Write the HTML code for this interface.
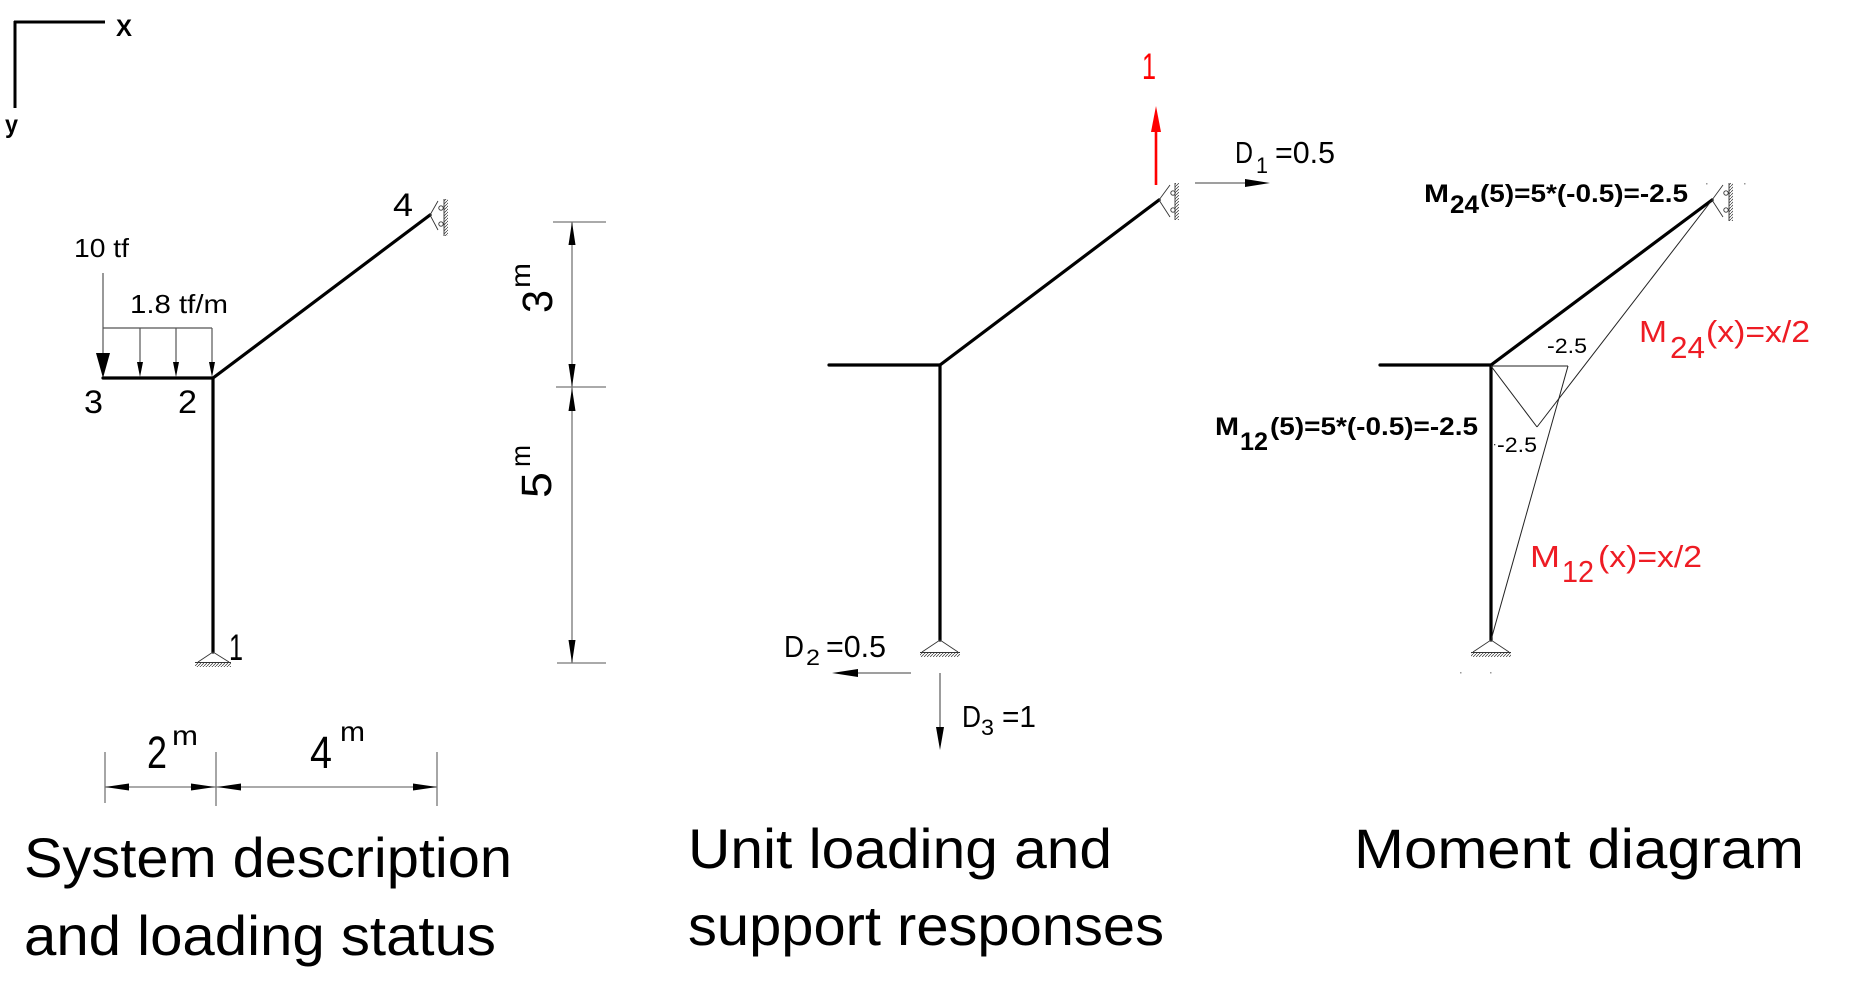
<!DOCTYPE html>
<html><head><meta charset="utf-8"><style>
html,body{margin:0;padding:0;background:#fff;}
svg{display:block;}
text{font-family:"Liberation Sans",Arial,sans-serif;}
</style></head><body>
<svg width="1872" height="1005" viewBox="0 0 1872 1005" xmlns="http://www.w3.org/2000/svg">
<defs>
<pattern id="h" patternUnits="userSpaceOnUse" width="3" height="3">
<line x1="0" y1="3" x2="3" y2="0" stroke="#333" stroke-width="0.7"/>
</pattern>
</defs>
<rect width="1872" height="1005" fill="#fff"/>

<!-- Axis -->
<line x1="14" y1="22" x2="105" y2="22" stroke="#000" stroke-width="3"/>
<line x1="15" y1="21" x2="15" y2="108" stroke="#000" stroke-width="3"/>
<text x="116" y="36" font-size="24" font-weight="bold" textLength="16" lengthAdjust="spacingAndGlyphs">X</text>
<text x="5" y="133" font-size="25" font-weight="bold" textLength="13" lengthAdjust="spacingAndGlyphs">y</text>

<!-- ===== LEFT DIAGRAM ===== -->
<g stroke="#000" stroke-width="3.2" stroke-linecap="round">
<line x1="103" y1="378" x2="213" y2="378"/>
<line x1="213" y1="378" x2="213" y2="652"/>
<line x1="213" y1="378" x2="430" y2="215"/>
</g>
<!-- 10 tf arrow -->
<line x1="103" y1="273" x2="103" y2="356" stroke="#555" stroke-width="1.2"/>
<polygon points="96,353 110,353 103,378" fill="#000"/>
<!-- distributed load -->
<line x1="103" y1="328" x2="212" y2="328" stroke="#555" stroke-width="1.2"/>
<g stroke="#555" stroke-width="1.2">
<line x1="140" y1="328" x2="140" y2="364"/>
<line x1="176" y1="328" x2="176" y2="364"/>
<line x1="212" y1="328" x2="212" y2="364"/>
</g>
<polygon points="137,362 143,362 140,377" fill="#000"/>
<polygon points="173,362 179,362 176,377" fill="#000"/>
<polygon points="209,362 215,362 212,377" fill="#000"/>
<text x="74" y="257" font-size="26" textLength="55" lengthAdjust="spacingAndGlyphs">10 tf</text>
<text x="130" y="313" font-size="26" textLength="98" lengthAdjust="spacingAndGlyphs">1.8 tf/m</text>
<text x="84" y="413" font-size="32" textLength="19" lengthAdjust="spacingAndGlyphs">3</text>
<text x="178" y="413" font-size="32" textLength="19" lengthAdjust="spacingAndGlyphs">2</text>
<text x="393" y="216" font-size="32" textLength="20" lengthAdjust="spacingAndGlyphs">4</text>
<text x="229" y="660" font-size="37" textLength="14" lengthAdjust="spacingAndGlyphs">1</text>
<!-- support 4 left -->
<g stroke="#333" stroke-width="0.9" fill="none">
<polyline points="438,201 430,215 438,230"/>
<circle cx="441" cy="208" r="2.2"/>
<circle cx="441" cy="224" r="2.2"/>
<line x1="444" y1="199" x2="444" y2="236"/>
</g>
<rect x="444" y="199" width="4" height="37" fill="url(#h)"/>
<!-- support 1 left -->
<g stroke="#333" stroke-width="0.9" fill="none">
<polyline points="198,662 213,652 229,662"/>
<line x1="195" y1="662.5" x2="231" y2="662.5"/>
</g>
<rect x="195" y="663" width="36" height="4" fill="url(#h)"/>

<!-- vertical dims -->
<g stroke="#777" stroke-width="1.3">
<line x1="572" y1="222" x2="572" y2="663"/>
<line x1="553" y1="222" x2="606" y2="222"/>
<line x1="556" y1="387" x2="606" y2="387"/>
<line x1="557" y1="663" x2="606" y2="663"/>
</g>
<polygon points="572,222 568.5,245 575.5,245" fill="#000"/>
<polygon points="572,387 568.5,364 575.5,364" fill="#000"/>
<polygon points="572,388 568.5,411 575.5,411" fill="#000"/>
<polygon points="572,663 568.5,640 575.5,640" fill="#000"/>
<text transform="translate(552,313) rotate(-90)" font-size="43" textLength="23" lengthAdjust="spacingAndGlyphs">3</text>
<text transform="translate(530,288) rotate(-90)" font-size="28" textLength="25" lengthAdjust="spacingAndGlyphs">m</text>
<text transform="translate(551,498) rotate(-90)" font-size="43" textLength="26" lengthAdjust="spacingAndGlyphs">5</text>
<text transform="translate(530,467) rotate(-90)" font-size="28" textLength="22" lengthAdjust="spacingAndGlyphs">m</text>

<!-- horizontal dims -->
<g stroke="#777" stroke-width="1.3">
<line x1="105" y1="787" x2="437" y2="787"/>
<line x1="105" y1="752" x2="105" y2="803"/>
<line x1="216" y1="752" x2="216" y2="806"/>
<line x1="437" y1="752" x2="437" y2="806"/>
</g>
<polygon points="105,787 129,783.5 129,790.5" fill="#000"/>
<polygon points="215,787 191,783.5 191,790.5" fill="#000"/>
<polygon points="217,787 241,783.5 241,790.5" fill="#000"/>
<polygon points="437,787 413,783.5 413,790.5" fill="#000"/>
<text x="147" y="768" font-size="45" textLength="20" lengthAdjust="spacingAndGlyphs">2</text>
<text x="172" y="745" font-size="28" textLength="26" lengthAdjust="spacingAndGlyphs">m</text>
<text x="310" y="768" font-size="45" textLength="22" lengthAdjust="spacingAndGlyphs">4</text>
<text x="340" y="741" font-size="28" textLength="25" lengthAdjust="spacingAndGlyphs">m</text>

<text x="24" y="877" font-size="56" textLength="488" lengthAdjust="spacingAndGlyphs">System description</text>
<text x="24" y="955" font-size="56" textLength="472" lengthAdjust="spacingAndGlyphs">and loading status</text>

<!-- ===== MIDDLE DIAGRAM ===== -->
<g stroke="#000" stroke-width="3.2" stroke-linecap="round">
<line x1="829" y1="365" x2="940" y2="365"/>
<line x1="940" y1="365" x2="940" y2="640"/>
<line x1="940" y1="365" x2="1159" y2="200"/>
</g>
<g stroke="#333" stroke-width="0.9" fill="none">
<polyline points="1170,185 1159,200 1170,217"/>
<circle cx="1173" cy="193" r="2.2"/>
<circle cx="1173" cy="210" r="2.2"/>
<line x1="1175" y1="183" x2="1175" y2="220"/>
</g>
<rect x="1175" y="183" width="4" height="37" fill="url(#h)"/>
<g stroke="#333" stroke-width="0.9" fill="none">
<polyline points="922,652 940,640 958,652"/>
<line x1="920" y1="652.5" x2="960" y2="652.5"/>
</g>
<rect x="920" y="653" width="40" height="4" fill="url(#h)"/>
<!-- red unit load -->
<line x1="1156" y1="185" x2="1156" y2="128" stroke="#ff0000" stroke-width="2.6"/>
<polygon points="1151,132 1161,132 1156,106" fill="#ff0000"/>
<text x="1142" y="79" font-size="37" fill="#ff0000" textLength="14" lengthAdjust="spacingAndGlyphs">1</text>
<!-- D1 -->
<line x1="1195" y1="183" x2="1250" y2="183" stroke="#666" stroke-width="1.3"/>
<polygon points="1270,183 1245,179 1245,187" fill="#000"/>
<text x="1235" y="163" font-size="31" textLength="18" lengthAdjust="spacingAndGlyphs">D</text>
<text x="1256" y="173" font-size="22" textLength="12" lengthAdjust="spacingAndGlyphs">1</text>
<text x="1275" y="163" font-size="31" textLength="60" lengthAdjust="spacingAndGlyphs">=0.5</text>
<!-- D2 -->
<line x1="911" y1="673" x2="855" y2="673" stroke="#666" stroke-width="1.3"/>
<polygon points="832,673 858,669 858,677" fill="#000"/>
<text x="784" y="657" font-size="31" textLength="20" lengthAdjust="spacingAndGlyphs">D</text>
<text x="806" y="665" font-size="22" textLength="14" lengthAdjust="spacingAndGlyphs">2</text>
<text x="826" y="657" font-size="31" textLength="60" lengthAdjust="spacingAndGlyphs">=0.5</text>
<!-- D3 -->
<line x1="940" y1="673" x2="940" y2="730" stroke="#666" stroke-width="1.3"/>
<polygon points="940,750 936,727 944,727" fill="#000"/>
<text x="962" y="727" font-size="31" textLength="19" lengthAdjust="spacingAndGlyphs">D</text>
<text x="981" y="735" font-size="22" textLength="13" lengthAdjust="spacingAndGlyphs">3</text>
<text x="1002" y="727" font-size="31" textLength="34" lengthAdjust="spacingAndGlyphs">=1</text>

<text x="688" y="868" font-size="56" textLength="424" lengthAdjust="spacingAndGlyphs">Unit loading and</text>
<text x="688" y="945" font-size="56" textLength="476" lengthAdjust="spacingAndGlyphs">support responses</text>

<!-- ===== RIGHT DIAGRAM ===== -->
<g stroke="#000" stroke-width="3.2" stroke-linecap="round">
<line x1="1380" y1="365" x2="1491" y2="365"/>
<line x1="1491" y1="365" x2="1491" y2="640"/>
<line x1="1491" y1="365" x2="1712" y2="200"/>
</g>
<g stroke="#333" stroke-width="0.9" fill="none">
<polyline points="1723,185 1712,200 1723,217"/>
<circle cx="1726" cy="193" r="2.2"/>
<circle cx="1726" cy="210" r="2.2"/>
<line x1="1729" y1="183" x2="1729" y2="221"/>
</g>
<rect x="1729" y="183" width="4" height="38" fill="url(#h)"/>
<g stroke="#333" stroke-width="0.9" fill="none">
<polyline points="1473,652 1491,640 1509,652"/>
<line x1="1471" y1="652.5" x2="1511" y2="652.5"/>
</g>
<rect x="1471" y="653" width="40" height="4" fill="url(#h)"/>
<g fill="#999">
<rect x="1706" y="183" width="1.5" height="1.5"/>
<rect x="1744" y="183" width="1.5" height="1.5"/>
<rect x="1460" y="672" width="1.5" height="1.5"/>
<rect x="1490" y="672" width="1.5" height="1.5"/>
</g>
<!-- moment diagram thin lines -->
<g stroke="#222" stroke-width="1" fill="none">
<line x1="1491" y1="366" x2="1568" y2="366"/>
<line x1="1568" y1="366" x2="1491" y2="640"/>
<line x1="1491" y1="366" x2="1537" y2="427"/>
<line x1="1537" y1="427" x2="1712" y2="200"/>
</g>
<text x="1547" y="353" font-size="21" textLength="40" lengthAdjust="spacingAndGlyphs">-2.5</text>
<rect x="1494" y="444" width="1.3" height="1.3" fill="#333"/>
<text x="1497" y="452" font-size="21" textLength="40" lengthAdjust="spacingAndGlyphs">-2.5</text>

<text x="1424" y="202" font-size="25" font-weight="bold" textLength="25" lengthAdjust="spacingAndGlyphs">M</text>
<text x="1450" y="213" font-size="25" font-weight="bold" textLength="29" lengthAdjust="spacingAndGlyphs">24</text>
<text x="1480" y="202" font-size="25" font-weight="bold" textLength="208" lengthAdjust="spacingAndGlyphs">(5)=5*(-0.5)=-2.5</text>

<text x="1215" y="435" font-size="25" font-weight="bold" textLength="24" lengthAdjust="spacingAndGlyphs">M</text>
<text x="1240" y="450" font-size="25" font-weight="bold" textLength="28" lengthAdjust="spacingAndGlyphs">12</text>
<text x="1270" y="435" font-size="25" font-weight="bold" textLength="208" lengthAdjust="spacingAndGlyphs">(5)=5*(-0.5)=-2.5</text>

<text x="1639" y="342" font-size="31" fill="#ee1c24" textLength="28" lengthAdjust="spacingAndGlyphs">M</text>
<text x="1670" y="358" font-size="31" fill="#ee1c24" textLength="35" lengthAdjust="spacingAndGlyphs">24</text>
<text x="1706" y="342" font-size="31" fill="#ee1c24" textLength="104" lengthAdjust="spacingAndGlyphs">(x)=x/2</text>

<text x="1530" y="567" font-size="31" fill="#ee1c24" textLength="30" lengthAdjust="spacingAndGlyphs">M</text>
<text x="1562" y="582" font-size="31" fill="#ee1c24" textLength="32" lengthAdjust="spacingAndGlyphs">12</text>
<text x="1598" y="567" font-size="31" fill="#ee1c24" textLength="104" lengthAdjust="spacingAndGlyphs">(x)=x/2</text>

<text x="1354" y="868" font-size="56" textLength="450" lengthAdjust="spacingAndGlyphs">Moment diagram</text>
</svg>
</body></html>
